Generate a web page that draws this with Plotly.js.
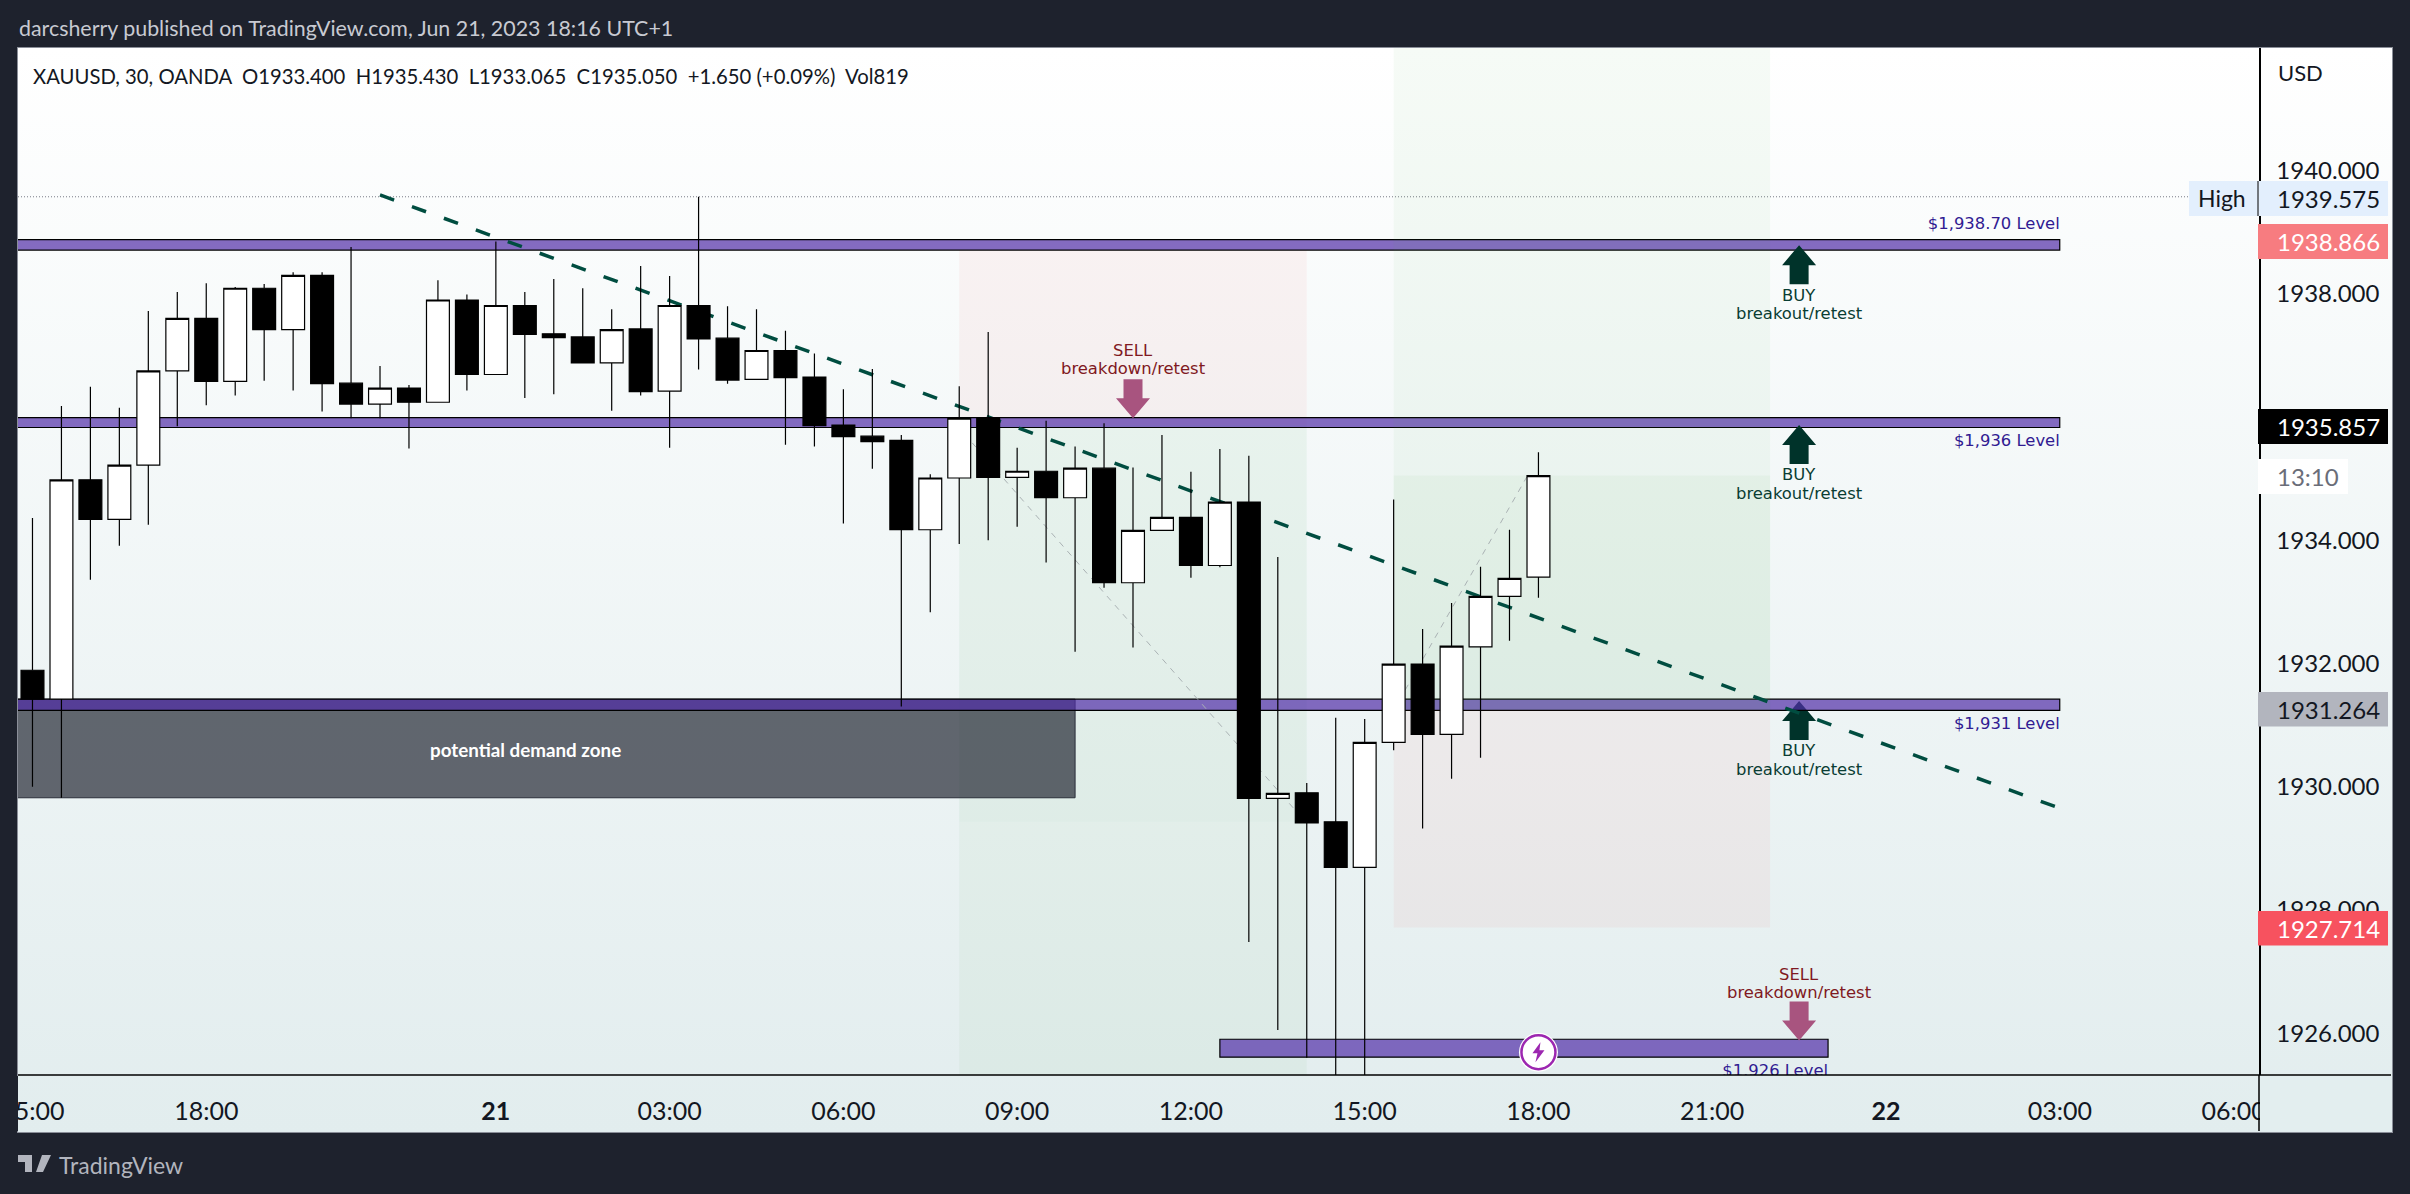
<!DOCTYPE html>
<html>
<head>
<meta charset="utf-8">
<script src="https://cdn.plot.ly/plotly-3.0.1.min.js"></script>
<style>
  html, body { margin: 0; padding: 0; background: #1e222d; overflow: hidden; }
  #frame { position: absolute; left: 17px; top: 47px; width: 2374px; height: 1084px;
           border: 1px solid #8a8e98; background: linear-gradient(180deg, #ffffff 0%, #e2edee 100%); }
  #chart { position: absolute; left: 0; top: 0; width: 2410px; height: 1194px; }
</style>
</head>
<body>
<div id="frame"></div>
<div id="chart"></div>
<script>
/* 30 min bars, x is the bar number because the session gap is not shown */
var barNo = [];
var open = [1931.89,1931.42,1934.98,1934.34,1935.22,1936.75,1937.60,1936.58,1938.09,1937.42,1938.30,1936.55,1936.21,1936.47,1936.24,1937.90,1936.69,1937.81,1937.35,1937.30,1936.88,1937.43,1936.42,1937.81,1937.28,1936.61,1937.08,1936.65,1935.87,1935.69,1935.62,1934.17,1935.01,1935.99,1935.02,1935.12,1934.69,1935.17,1933.31,1934.16,1934.37,1933.59,1934.62,1929.81,1929.90,1929.43,1928.69,1930.72,1931.99,1930.85,1932.27,1933.09,1933.40];
var high = [1934.36,1936.18,1936.49,1936.15,1937.72,1938.03,1938.17,1938.11,1938.16,1938.35,1938.35,1938.76,1936.83,1936.52,1938.22,1937.99,1938.85,1938.03,1938.24,1938.09,1937.75,1938.45,1938.29,1939.575,1937.80,1937.75,1937.40,1937.03,1936.45,1936.78,1935.71,1935.07,1936.50,1937.38,1935.50,1935.94,1935.52,1935.90,1935.18,1935.71,1935.11,1935.48,1935.37,1933.73,1930.06,1931.12,1931.10,1934.66,1932.56,1932.98,1933.57,1934.17,1935.43];
var low = [1930.00,1929.82,1933.36,1933.91,1934.25,1935.85,1936.19,1936.35,1936.59,1936.43,1936.09,1935.98,1935.98,1935.49,1936.24,1936.43,1936.69,1936.31,1936.37,1936.88,1936.10,1936.35,1935.50,1936.77,1936.54,1936.61,1935.55,1935.52,1934.27,1935.16,1931.30,1932.83,1933.94,1934.00,1934.22,1933.64,1932.19,1933.23,1932.26,1934.16,1933.39,1933.56,1927.48,1926.05,1925.60,1925.10,1925.10,1930.59,1929.32,1930.13,1930.47,1932.37,1933.065];
var close = [1931.42,1934.98,1934.34,1935.22,1936.75,1937.60,1936.58,1938.09,1937.42,1938.30,1936.54,1936.21,1936.47,1936.24,1937.90,1936.69,1937.81,1937.34,1937.29,1936.88,1937.42,1936.41,1937.81,1937.27,1936.60,1937.08,1936.64,1935.86,1935.68,1935.60,1934.17,1935.01,1935.98,1935.02,1935.12,1934.69,1935.17,1933.31,1934.16,1934.37,1933.59,1934.62,1929.81,1929.89,1929.41,1928.69,1930.72,1931.99,1930.85,1932.28,1933.09,1933.38,1935.05];
for (var n = 0; n < open.length; n++) barNo.push(n);

var timeTicks = [0, 6, 16, 22, 28, 34, 40, 46, 52, 58, 64, 70, 76];
var timeLabels = ['15:00', '18:00', '<b>21</b>', '03:00', '06:00', '09:00', '12:00', '15:00', '18:00', '21:00', '<b>22</b>', '03:00', '06:00'];
var priceTicks = [1926, 1928, 1930, 1932, 1934, 1938, 1940];
var priceLabels = ['1926.000', '1928.000', '1930.000', '1932.000', '1934.000', '1938.000', '1940.000'];

/* drawings */
var levelTop = [1938.88, 1935.99, 1931.42];
var levelBottom = [1938.71, 1935.83, 1931.24];
var levelText = ['$1,938.70 Level', '$1,936 Level', '$1,931 Level', '$1,926 Level'];
var levelTextX = [70, 70, 70, 62];
var levelTextY = [1939.125, 1935.596, 1931.01, 1925.37];
var trendX = [12, 70];
var trendY = [1939.605, 1929.65];
var pathAX = [32.45, 43.6];
var pathAY = [1935.58, 1929.62];
var pathBX = [47.4, 51.6];
var pathBY = [1931.57, 1935.03];
var buyTips = [1938.79, 1935.87, 1931.39];
var highPrice = 1939.575;

/* page pixels to paper coordinates */
var plotL = 18, plotR = 2259, plotT = 48, plotB = 1075;
function px(x) { return (x - plotL) / (plotR - plotL); }
function py(y) { return 1 - (y - plotT) / (plotB - plotT); }

var textFont = 'Lato, "Noto Sans", sans-serif';
var noteFont = '"DejaVu Sans", sans-serif';
var noteSize = 16.4;
var shapes = [];

function rectData(x0, x1, y0, y1, fill, line) {
  shapes.push({ type: 'rect', xref: 'x', yref: 'y', x0: x0, x1: x1, y0: y0, y1: y1, layer: 'below',
    fillcolor: fill, line: line || { width: 0 } });
}
function rectPage(x0, x1, y0, y1, fill) {
  shapes.push({ type: 'rect', xref: 'paper', yref: 'paper', x0: px(x0), x1: px(x1), y0: py(y0), y1: py(y1),
    layer: 'above', fillcolor: fill, line: { width: 0 } });
}
function linePage(x0, x1, y0, y1, color, width) {
  shapes.push({ type: 'line', xref: 'paper', yref: 'paper', x0: px(x0), x1: px(x1), y0: py(y0), y1: py(y1),
    layer: 'above', line: { color: color, width: width } });
}
/* arrow with its tip on a bar and a price, sizes in pixels, dir 1 points up */
function arrow(bar, price, d, color, layer) {
  shapes.push({ type: 'path', xref: 'x', yref: 'y', xsizemode: 'pixel', ysizemode: 'pixel', xanchor: bar, yanchor: price,
    layer: layer, fillcolor: color, line: { width: 0 },
    path: 'M0,0 L17,' + (-20 * d) + ' L9.5,' + (-20 * d) + ' L9.5,' + (-39 * d) + ' L-9.5,' + (-39 * d) +
          ' L-9.5,' + (-20 * d) + ' L-17,' + (-20 * d) + ' Z' });
}

/* left position tool */
rectData(32, 44, 1935.87, 1938.71, 'rgba(244,67,54,0.05)');
rectData(32, 44, 1929.43, 1935.87, 'rgba(76,175,80,0.02)');
rectData(32, 44, 1925, 1935.87, 'rgba(76,175,80,0.05)');
/* demand zone */
rectData(-2, 36, 1929.82, 1931.42, 'rgba(30,34,45,0.68)', { color: '#2a2e39', width: 1 });
arrow(61, buyTips[2], 1, '#00332a', 'below');
/* levels */
var levelLine = { color: '#000', width: 1.2 };
for (var i = 0; i < levelTop.length; i++) {
  rectData(-2, 70, levelBottom[i], levelTop[i], 'rgba(81,45,168,0.7)', levelLine);
}
rectData(41, 62, 1925.61, 1925.90, 'rgba(81,45,168,0.7)', levelLine);
/* right position tool, lies over the levels */
rectData(47, 60, 1931.24, 1943, 'rgba(76,175,80,0.05)');
rectData(47, 60, 1931.24, 1935.05, 'rgba(76,175,80,0.05)');
rectData(47, 60, 1927.714, 1931.24, 'rgba(244,67,54,0.05)');

/* trend and projection lines */
shapes.push({ type: 'line', xref: 'x', yref: 'y', x0: trendX[0], x1: trendX[1], y0: trendY[0], y1: trendY[1], layer: 'below',
  line: { color: '#004d40', width: 3.5, dash: '15px,19px' } });
shapes.push({ type: 'line', xref: 'x', yref: 'y', x0: pathAX[0], x1: pathAX[1], y0: pathAY[0], y1: pathAY[1], layer: 'below',
  line: { color: '#aab2b4', width: 1, dash: '6px,6px' } });
shapes.push({ type: 'line', xref: 'x', yref: 'y', x0: pathBX[0], x1: pathBX[1], y0: pathBY[0], y1: pathBY[1], layer: 'below',
  line: { color: '#aab2b4', width: 1, dash: '6px,6px' } });
shapes.push({ type: 'line', xref: 'paper', yref: 'y', x0: 0, x1: px(2189), y0: highPrice, y1: highPrice, layer: 'below',
  line: { color: '#787b86', width: 1, dash: '1px,2px' } });

arrow(61, buyTips[0], 1, '#00332a', 'below');
arrow(61, buyTips[1], 1, '#00332a', 'below');
arrow(38, 1935.98, -1, '#a8547f', 'below');
arrow(61, 1925.88, -1, '#a8547f', 'below');

/* flash badge on the last bar's time */
shapes.push({ type: 'circle', xref: 'x', yref: 'y', xsizemode: 'pixel', ysizemode: 'pixel', xanchor: 52, yanchor: 1925.69,
  x0: -19.5, x1: 19.5, y0: -19.5, y1: 19.5, layer: 'above', fillcolor: '#ffffff', line: { width: 0 } });
shapes.push({ type: 'circle', xref: 'x', yref: 'y', xsizemode: 'pixel', ysizemode: 'pixel', xanchor: 52, yanchor: 1925.69,
  x0: -17, x1: 17, y0: -17, y1: 17, layer: 'above', fillcolor: '#ffffff', line: { color: '#9c27b0', width: 2.5 } });
shapes.push({ type: 'path', xref: 'x', yref: 'y', xsizemode: 'pixel', ysizemode: 'pixel', xanchor: 52, yanchor: 1925.69,
  layer: 'above', fillcolor: '#9c27b0', line: { width: 0 },
  path: 'M2,10 L-6,-1 L-1,-1 L-3,-10 L6,2 L1,2 Z' });

/* clip the overflowing time labels, then the price axis tags */
rectPage(0, 18, 1076, 1131, '#1e222d');
rectPage(2260, 2391, 1076, 1131, '#e3eeef');
linePage(18, 2391, 1075, 1075, '#000', 1.5);
linePage(2259, 2259, 1075, 1131, '#000', 1.5);

rectPage(2189, 2258, 181, 216, '#e3effd');
rectPage(2258, 2388, 181, 216, '#e3effd');
linePage(2258, 2258, 181, 216, '#000', 1);
rectPage(2258, 2388, 224, 259, '#f77c80');
rectPage(2258, 2388, 409, 444, '#000000');
rectPage(2258, 2348, 459, 494, '#ffffff');
rectPage(2258, 2388, 692, 726.5, '#b2b5be');
rectPage(2258, 2388, 911, 945.5, '#f7525f');

/* logo */
shapes.push({ type: 'path', xref: 'paper', yref: 'paper', xsizemode: 'pixel', ysizemode: 'pixel', xanchor: px(18), yanchor: py(1172),
  layer: 'above', fillcolor: '#b2b5be', line: { width: 0 },
  path: 'M0,17 L14,17 L14,0 L7,0 L7,10 L0,10 Z M16,17 A3,3 0 1 1 16,10.9 A3,3 0 1 1 16,17 Z M24,17 L33,17 L25,0 L18,0 Z' });

var annotations = [];
function pageText(x, y, text, size, color, xanchor) {
  annotations.push({ xref: 'paper', yref: 'paper', x: px(x), y: py(y), text: text, showarrow: false,
    xanchor: xanchor || 'left', yanchor: 'middle', borderpad: 0, font: { family: textFont, size: size, color: color } });
}
function note(bar, y, text, color) {
  annotations.push({ xref: 'x', yref: 'paper', x: bar, y: py(y), yanchor: 'middle', xanchor: 'center', borderpad: 0, showarrow: false,
    text: text, font: { family: noteFont, size: noteSize, color: color } });
}

pageText(18, 28, 'darcsherry published on TradingView.com, Jun 21, 2023 18:16 UTC+1', 21.4, '#c8cad2');
pageText(32, 75.5, 'XAUUSD, 30, OANDA\u00a0\u00a0O1933.400\u00a0\u00a0H1935.430\u00a0\u00a0L1933.065\u00a0\u00a0C1935.050\u00a0\u00a0+1.650 (+0.09%)\u00a0\u00a0Vol819', 20.3, '#131722');
pageText(2277, 72.7, 'USD', 22, '#131722');
pageText(2197, 198, 'High', 23, '#131722');
pageText(2276, 198.5, '1939.575', 24, '#131722');
pageText(2276, 241.5, '1938.866', 24, '#ffffff');
pageText(2276, 426.5, '1935.857', 24, '#ffffff');
pageText(2276, 476.5, '13:10', 24, '#6a6d78');
pageText(2276, 709, '1931.264', 24, '#131722');
pageText(2276, 928, '1927.714', 24, '#ffffff');
pageText(525, 749, '<b>potential demand zone</b>', 18.8, '#ffffff', 'center');
pageText(58, 1165, 'TradingView', 23, '#b2b5be');

note(38, 350.7, 'SELL', '#801922');
note(38, 369, 'breakdown/retest', '#801922');
note(61, 974, 'SELL', '#801922');
note(61, 992, 'breakdown/retest', '#801922');
var buyRows = [[295.5, 313.8], [474.5, 493], [750.8, 769]];
for (var b = 0; b < buyRows.length; b++) {
  note(61, buyRows[b][0], 'BUY', '#0a3d33');
  note(61, buyRows[b][1], 'breakout/retest', '#0a3d33');
}

var candles = {
  type: 'candlestick',
  x: barNo,
  open: open,
  high: high,
  low: low,
  close: close,
  whiskerwidth: 0,
  increasing: { fillcolor: '#ffffff', line: { color: '#000000', width: 1.2 } },
  decreasing: { fillcolor: '#000000', line: { color: '#000000', width: 1.2 } },
  hoverinfo: 'skip'
};

var levelLabels = {
  type: 'scatter',
  mode: 'text',
  x: levelTextX,
  y: levelTextY,
  text: levelText,
  textposition: 'middle left',
  textfont: { family: noteFont, size: noteSize, color: '#311b92' },
  cliponaxis: true,
  hoverinfo: 'skip'
};

var layout = {
  width: 2410,
  height: 1194,
  margin: { l: plotL, r: 2410 - plotR, t: plotT, b: 1194 - plotB, pad: 0 },
  paper_bgcolor: 'rgba(0,0,0,0)',
  plot_bgcolor: 'rgba(0,0,0,0)',
  showlegend: false,
  boxgap: 0.21,
  boxgroupgap: 0,
  font: { family: textFont, color: '#131722' },
  xaxis: {
    range: [-0.5, 76.88],
    rangeslider: { visible: false },
    showgrid: false,
    zeroline: false,
    tickmode: 'array',
    tickvals: timeTicks,
    ticktext: timeLabels,
    tickfont: { family: textFont, size: 25, color: '#131722' },
    ticks: 'outside',
    ticklen: 14,
    tickcolor: 'rgba(0,0,0,0)',
    ticklabeloverflow: 'allow',
    tickangle: 0
  },
  yaxis: {
    side: 'right',
    range: [1925.32, 1941.99],
    showgrid: false,
    zeroline: false,
    showline: true,
    linecolor: '#000',
    linewidth: 1.5,
    tickmode: 'array',
    tickvals: priceTicks,
    ticktext: priceLabels,
    tickfont: { family: textFont, size: 24, color: '#131722' },
    ticks: 'outside',
    ticklen: 11,
    tickcolor: 'rgba(0,0,0,0)'
  },
  shapes: shapes,
  annotations: annotations
};

var config = { displayModeBar: false, staticPlot: true };

Plotly.newPlot('chart', [candles, levelLabels], layout, config);
</script>
</body>
</html>
